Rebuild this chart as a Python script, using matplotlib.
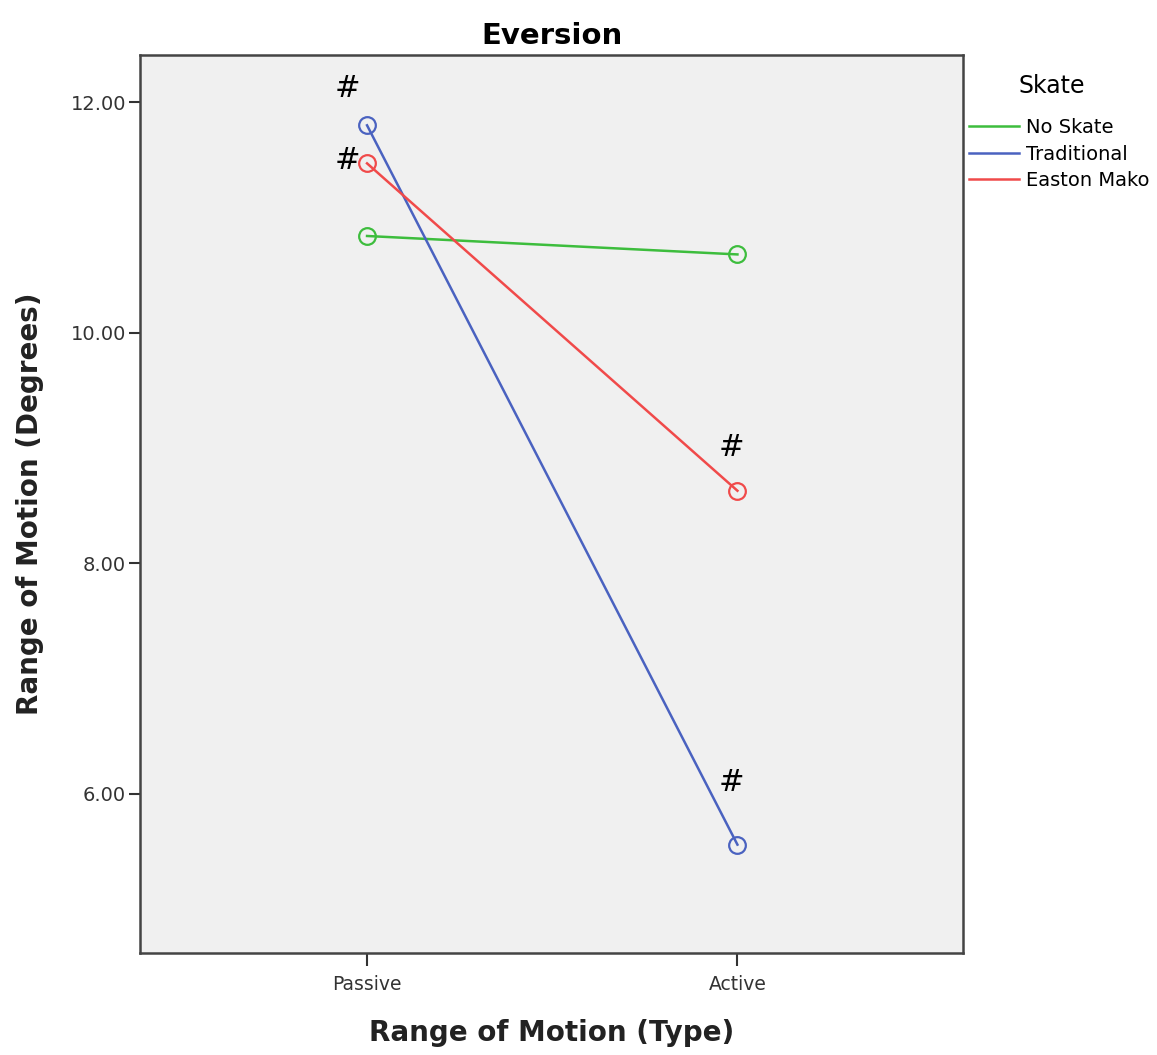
import numpy as np
import matplotlib
matplotlib.use("Agg")
from matplotlib import pyplot as plt

# mean range of motion per skate condition
rom_types = ['Passive', 'Active']
skates = ['No Skate', 'Traditional', 'Easton Mako']
no_skate = [10.84, 10.68]
traditional = [11.80, 5.56]
easton_mako = [11.47, 8.63]
colors = ['#3dbd3d', '#4a62c0', '#f04a4a']

# points marked as significant: (series index, x index, label offset in px)
flagged = [(1, 0, (-20, 37)), (2, 0, (-20, 3)), (2, 1, (-6, 43)), (1, 1, (-6, 62))]

plt.rcParams['font.family'] = ['DejaVu Sans']

fig = plt.figure(figsize=(11.57, 10.55), dpi=100)
ax = fig.add_axes([140 / 1157, 1 - 953 / 1055, 823 / 1157, 898 / 1055])
ax.set_facecolor('#f0f0f0')

x = np.arange(len(rom_types))
series = [no_skate, traditional, easton_mako]
for vals, name, c in zip(series, skates, colors):
    ax.plot(x, vals, color=c, lw=1.8, label=name)
    ax.plot(x, vals, ls='none', marker='o', ms=12, mfc='none', mec=c, mew=1.6)

for si, xi, off in flagged:
    ax.annotate('#', (x[xi], series[si][xi]), xytext=off, textcoords='offset pixels',
                ha='center', va='center', fontsize=22)

ax.set_xlim(-0.613, 1.609)
ax.set_ylim(4.62, 12.41)
ax.set_xticks(x)
ax.set_xticklabels(rom_types, fontsize=13.5)
ax.set_yticks([6, 8, 10, 12])
ax.set_yticklabels(['%.2f' % v for v in [6, 8, 10, 12]], fontsize=14, color='#333333')
ax.tick_params(axis='x', length=9, width=1.5, colors='#333333', pad=7)
ax.tick_params(axis='y', length=8, width=1.5, colors='#333333', pad=2)
for s in ax.spines.values():
    s.set_linewidth(1.8)
    s.set_color('#444444')

ax.set_title('Eversion', fontsize=21, fontweight='bold', pad=8)
ax.set_xlabel('Range of Motion (Type)', fontsize=20, fontweight='bold', labelpad=18,
              color='#222222')
ax.set_ylabel('Range of Motion (Degrees)', fontsize=20, fontweight='bold',
              color='#222222')
ax.yaxis.set_label_coords(-0.117, 0.5)

leg = ax.legend(loc='upper left', bbox_to_anchor=(1.0, 0.985), frameon=False,
                title='Skate', fontsize=14, title_fontsize=17, handlelength=2.6,
                handletextpad=0.35, labelspacing=0.4, borderaxespad=0.3,
                borderpad=0.0)
leg._legend_box.align = 'left'
leg._legend_box.sep = 14
leg.get_title().set_position((50, 0))

fig.savefig('out.png', dpi=100)
